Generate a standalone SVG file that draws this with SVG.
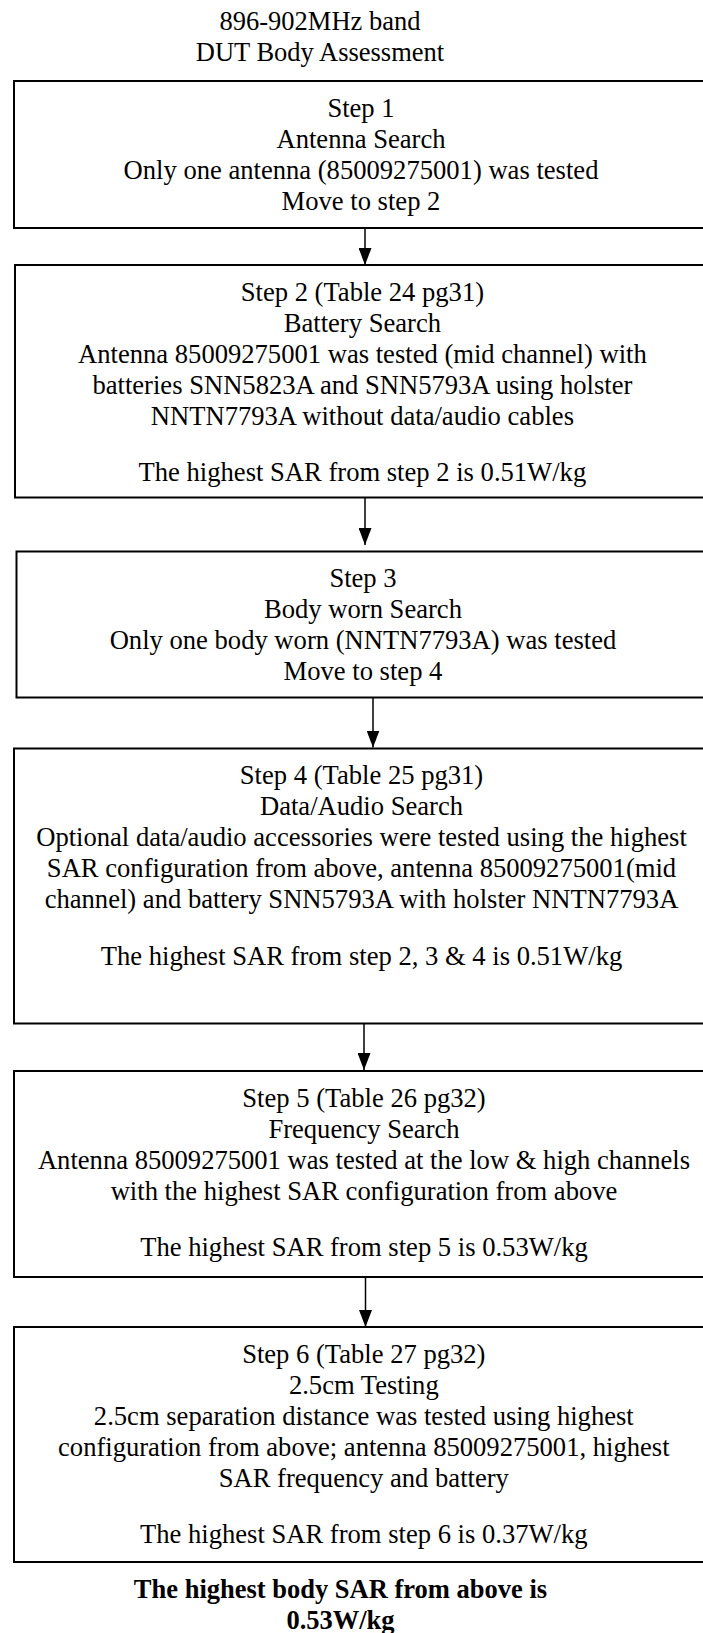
<svg xmlns="http://www.w3.org/2000/svg" width="703" height="1633" viewBox="0 0 703 1633">
<style>
text{font-family:"Liberation Serif","Times New Roman",serif;font-size:26.6px;fill:#000;text-anchor:middle}
.title{font-size:26.5px}
.bold{font-weight:bold;font-size:26.5px}
.box{fill:#fff;stroke:#000;stroke-width:2}
.conn line{stroke:#000;stroke-width:1.5}
</style>
<defs>
<marker id="arr" markerUnits="userSpaceOnUse" markerWidth="17" markerHeight="13" viewBox="0 0 17 13" refX="17" refY="6.5" orient="auto">
<path d="M0,0 L17,6.5 L0,13 z" fill="#000"/>
</marker>
</defs>
<rect width="703" height="1633" fill="#fff"/>
<g id="title">
<text class="title" x="320" y="29.5">896-902MHz band</text>
<text class="title" x="320" y="60.5">DUT Body Assessment</text>
</g>
<g id="step1">
<rect class="box" x="14" y="81" width="697" height="147"/>
<text x="361" y="117">Step 1</text>
<text x="361" y="148">Antenna Search</text>
<text x="361" y="179">Only one antenna (85009275001) was tested</text>
<text x="361" y="210">Move to step 2</text>
</g>
<g id="step2">
<rect class="box" x="15" y="265" width="696" height="232.5"/>
<text x="362.4" y="301">Step 2 (Table 24 pg31)</text>
<text x="362.4" y="332">Battery Search</text>
<text x="362.4" y="363">Antenna 85009275001 was tested (mid channel) with</text>
<text x="362.4" y="394">batteries SNN5823A and SNN5793A using holster</text>
<text x="362.4" y="425">NNTN7793A without data/audio cables</text>
<text x="362.4" y="481">The highest SAR from step 2 is 0.51W/kg</text>
</g>
<g id="step3">
<rect class="box" x="16.5" y="551.5" width="694" height="146"/>
<text x="363" y="587">Step 3</text>
<text x="363" y="618">Body worn Search</text>
<text x="363" y="649">Only one body worn (NNTN7793A) was tested</text>
<text x="363" y="680">Move to step 4</text>
</g>
<g id="step4">
<rect class="box" x="14" y="748.5" width="697" height="275"/>
<text x="361.5" y="784">Step 4 (Table 25 pg31)</text>
<text x="361.5" y="815">Data/Audio Search</text>
<text x="361.5" y="846">Optional data/audio accessories were tested using the highest</text>
<text x="361.5" y="877">SAR configuration from above, antenna 85009275001(mid</text>
<text x="361.5" y="908">channel) and battery SNN5793A with holster NNTN7793A</text>
<text x="361.5" y="965">The highest SAR from step 2, 3 &amp; 4 is 0.51W/kg</text>
</g>
<g id="step5">
<rect class="box" x="14" y="1071" width="697" height="206"/>
<text x="364" y="1107">Step 5 (Table 26 pg32)</text>
<text x="364" y="1138">Frequency Search</text>
<text x="364" y="1169">Antenna 85009275001 was tested at the low &amp; high channels</text>
<text x="364" y="1200">with the highest SAR configuration from above</text>
<text x="364" y="1256">The highest SAR from step 5 is 0.53W/kg</text>
</g>
<g id="step6">
<rect class="box" x="14" y="1327" width="697" height="235"/>
<text x="363.8" y="1363">Step 6 (Table 27 pg32)</text>
<text x="363.8" y="1394">2.5cm Testing</text>
<text x="363.8" y="1425">2.5cm separation distance was tested using highest</text>
<text x="363.8" y="1456">configuration from above; antenna 85009275001, highest</text>
<text x="363.8" y="1487">SAR frequency and battery</text>
<text x="363.8" y="1543">The highest SAR from step 6 is 0.37W/kg</text>
</g>
<g id="result">
<text class="bold" x="340.5" y="1598.3">The highest body SAR from above is</text>
<text class="bold" x="340.5" y="1628.5">0.53W/kg</text>
</g>
<g id="connectors" class="conn">
<line x1="365" y1="228" x2="365" y2="265" marker-end="url(#arr)"/>
<line x1="365" y1="497.5" x2="365" y2="545" marker-end="url(#arr)"/>
<line x1="373" y1="697.5" x2="373" y2="747.5" marker-end="url(#arr)"/>
<line x1="364" y1="1023.5" x2="364" y2="1070" marker-end="url(#arr)"/>
<line x1="365.5" y1="1277" x2="365.5" y2="1327" marker-end="url(#arr)"/>
</g>
</svg>
